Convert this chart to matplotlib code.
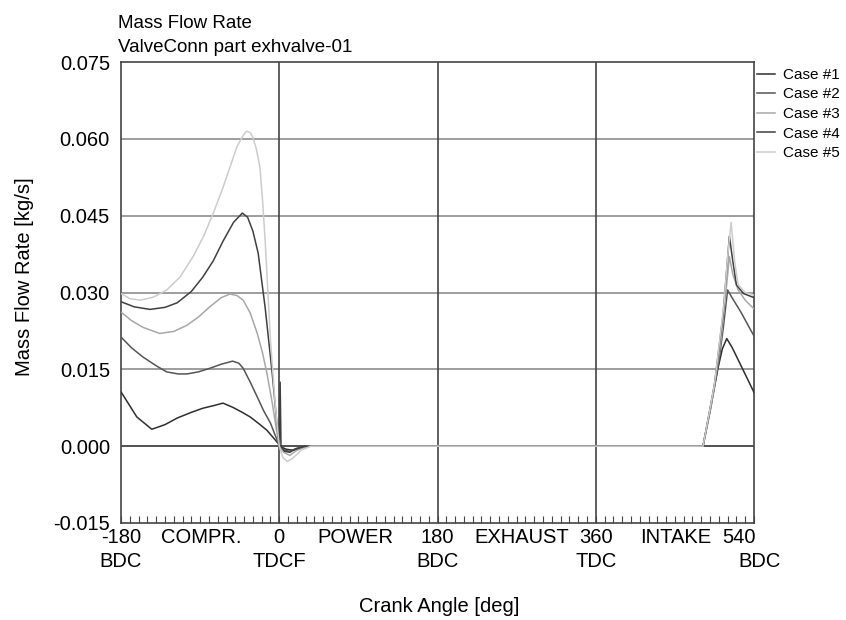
import matplotlib
matplotlib.use("Agg")
import matplotlib.pyplot as plt
from matplotlib.ticker import MultipleLocator

plt.rcParams["font.family"] = ["Liberation Sans", "DejaVu Sans"]

# crank angle [deg] and mass flow rate [kg/s] per case
deg_1 = [-180, -162, -145, -130, -116, -100, -87, -75, -64, -53, -42, -33, -24, -14, -6, -1, 0,
         8, 16, 25, 35, 480, 482, 490, 499, 504, 509, 515, 525, 540]
flow_1 = [0.0106, 0.0057, 0.0033, 0.0042, 0.0055, 0.0066, 0.0074, 0.0079, 0.0084, 0.0076, 0.0066,
          0.0057, 0.0045, 0.0031, 0.0015, 0.0005, 0.0, -0.0006, -0.0008, -0.0003, 0.0, 0.0, 0.0,
          0.0068, 0.0152, 0.0190, 0.0210, 0.0193, 0.0158, 0.0105]

deg_2 = [-180, -168, -155, -140, -128, -115, -105, -92, -79, -66, -53, -46, -41, -33, -25, -18, -10,
         -5, -1, 0, 6, 12, 20, 30, 480, 482, 490, 500, 505, 510, 515, 525, 540]
flow_2 = [0.0213, 0.0192, 0.0174, 0.0157, 0.0145, 0.0141, 0.0141, 0.0145, 0.0152, 0.0160, 0.0166,
          0.0162, 0.0152, 0.0125, 0.0096, 0.0070, 0.0045, 0.0023, 0.0006, 0.0, -0.0008, -0.0010,
          -0.0004, 0.0, 0.0, 0.0, 0.0070, 0.0165, 0.0230, 0.0305, 0.0290, 0.0262, 0.0215]

deg_3 = [-180, -168, -155, -136, -120, -105, -92, -79, -66, -56, -48, -41, -33, -25, -19, -14, -8,
         -3, 0, 5, 12, 20, 32, 480, 482, 492, 502, 508, 512, 516, 522, 530, 540]
flow_3 = [0.0262, 0.0245, 0.0232, 0.0220, 0.0224, 0.0236, 0.0252, 0.0272, 0.0290, 0.0297, 0.0294,
          0.0285, 0.0260, 0.0220, 0.0182, 0.0142, 0.0085, 0.0030, 0.0, -0.0012, -0.0018, -0.0008,
          0.0, 0.0, 0.0, 0.0085, 0.0200, 0.0300, 0.0370, 0.0335, 0.0305, 0.0285, 0.0268]

deg_4 = [-180, -165, -147, -130, -116, -100, -87, -75, -64, -52, -42, -36, -30, -24, -16, -8, -3, 0,
         1, 2, 6, 12, 18, 30, 480, 482, 495, 505, 512, 516, 520, 528, 540]
flow_4 = [0.0282, 0.0272, 0.0267, 0.0271, 0.0280, 0.0302, 0.0330, 0.0362, 0.0400, 0.0437, 0.0455,
          0.0447, 0.0420, 0.0377, 0.0270, 0.0142, 0.0050, 0.0, 0.0125, 0.0, -0.0010, -0.0012,
          -0.0006, 0.0, 0.0, 0.0, 0.0120, 0.0260, 0.0410, 0.0360, 0.0315, 0.0298, 0.0290]

deg_5 = [-180, -170, -158, -143, -128, -113, -98, -86, -75, -65, -56, -48, -41, -37, -33, -30, -26,
         -22, -19, -16, -10, -5, -2, 0, 4, 9, 15, 25, 36, 480, 482, 495, 506, 510, 514, 518, 522,
         530, 540]
flow_5 = [0.0298, 0.0288, 0.0285, 0.0291, 0.0305, 0.0330, 0.0370, 0.0410, 0.0455, 0.0500, 0.0545,
          0.0585, 0.0607, 0.0615, 0.0612, 0.0603, 0.0580, 0.0545, 0.0480, 0.0400, 0.0207, 0.0090,
          0.0035, 0.0, -0.0022, -0.0030, -0.0024, -0.0008, 0.0, 0.0, 0.0, 0.0120, 0.0280, 0.0370,
          0.0437, 0.0360, 0.0315, 0.0300, 0.0295]

case_labels = ["Case #1", "Case #2", "Case #3", "Case #4", "Case #5"]
case_colors = ["#2e2e2e", "#555555", "#a8a8a8", "#404040", "#cccccc"]

major_ticks = [-180, 0, 180, 360, 540]
angle_labels = ["-180", "0", "180", "360", "540"]
dead_centers = ["BDC", "TDCF", "BDC", "TDC", "BDC"]
stroke_pos = [-89, 87, 276, 451]
strokes = ["COMPR.", "POWER", "EXHAUST", "INTAKE"]
y_ticks = [-0.015, 0.0, 0.015, 0.030, 0.045, 0.060, 0.075]

fig = plt.figure(figsize=(8.46, 6.2), dpi=100)
ax = fig.add_axes([121 / 846, 97 / 620, 633 / 846, 461 / 620])

# grid: grey horizontals, dark verticals at the dead centres
for v in y_ticks[2:-1]:
    ax.axhline(v, color="#8c8c8c", lw=1.2, zorder=1)
for d in major_ticks[1:-1]:
    ax.axvline(d, color="#444444", lw=1.2, zorder=1)
ax.axhline(0, color="#333333", lw=1.2, zorder=1)

series = [(deg_1, flow_1), (deg_2, flow_2), (deg_3, flow_3), (deg_4, flow_4), (deg_5, flow_5)]
for (d, f), lab, col in zip(series, case_labels, case_colors):
    ax.plot(d, f, color=col, lw=1.1, label=lab, zorder=3)

ax.set_xlim(-180, 540)
ax.set_ylim(-0.015, 0.075)
ax.set_yticks(y_ticks)
ax.set_yticklabels([f"{v:.3f}" for v in y_ticks])
ax.xaxis.set_major_locator(MultipleLocator(180))
ax.xaxis.set_minor_locator(MultipleLocator(10))
ax.set_xticklabels([])
ax.tick_params(axis="x", which="both", direction="in", length=5, width=0.8, colors="#444444")
ax.tick_params(axis="y", length=0, pad=8, labelsize=14.5)
for s in ax.spines.values():
    s.set_color("#444444")
    s.set_linewidth(1.2)

# two-row crank angle labels under the axis
tr = ax.get_xaxis_transform()
for d, a, c in zip(major_ticks, angle_labels, dead_centers):
    ha = "right" if d == 540 else "center"
    ax.text(d + (2 if d == 540 else 0), -0.01, a, transform=tr, ha=ha, va="top", fontsize=14.5)
    ax.text(d + (6 if d == 540 else 0), -0.063, c, transform=tr, ha="center", va="top",
            fontsize=14.5)
for d, s in zip(stroke_pos, strokes):
    ax.text(d, -0.01, s, transform=tr, ha="center", va="top", fontsize=14.5)

fig.text(118 / 846, 1 - 28 / 620, "Mass Flow Rate", fontsize=13.5, va="baseline")
fig.text(118 / 846, 1 - 52 / 620, "ValveConn part exhvalve-01", fontsize=13.5, va="baseline")
fig.text(24 / 846, 1 - 277 / 620, "Mass Flow Rate [kg/s]", rotation=90, fontsize=14.5,
         ha="center", va="center")
fig.text(439 / 846, 1 - 607 / 620, "Crank Angle [deg]", fontsize=14.5, ha="center", va="center")

fig.legend(loc="upper left", bbox_to_anchor=(757 / 846, 1 - 68 / 620), frameon=False,
           fontsize=11, handlelength=1.2, handletextpad=0.5, labelspacing=0.36, borderpad=0,
           borderaxespad=0)

fig.savefig("out.png", dpi=100)
